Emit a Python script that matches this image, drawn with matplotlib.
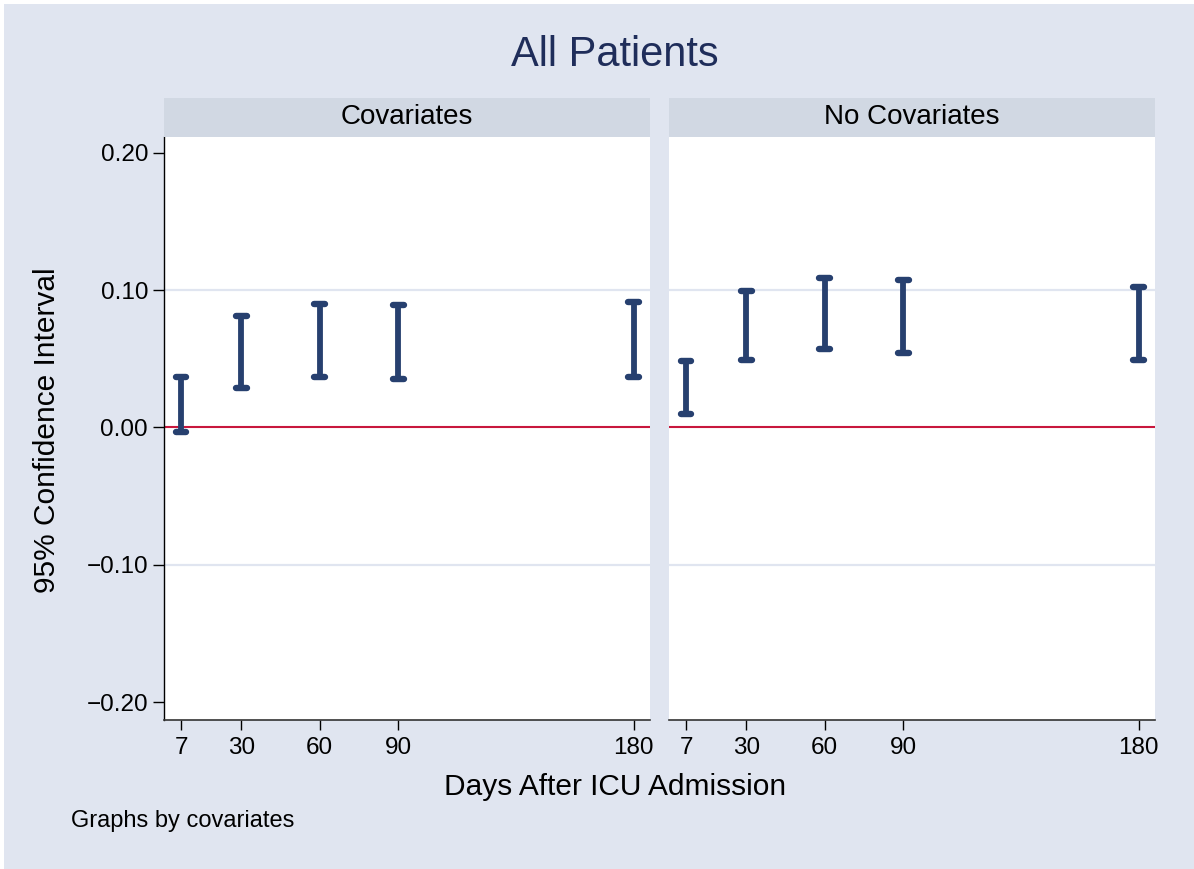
"""Confidence intervals by days after ICU admission, with and without covariates."""
import matplotlib
matplotlib.use("Agg")
import matplotlib.pyplot as plt
from matplotlib.patches import Rectangle

plt.rcParams["font.family"] = ["Liberation Sans", "DejaVu Sans"]

# data
days = [7, 30, 60, 90, 180]
panels = ["Covariates", "No Covariates"]
cov_lo = [-0.003, 0.029, 0.037, 0.035, 0.037]
cov_hi = [0.037, 0.081, 0.090, 0.089, 0.091]
nocov_lo = [0.010, 0.049, 0.057, 0.054, 0.049]
nocov_hi = [0.048, 0.099, 0.109, 0.107, 0.102]
yticks = [-0.20, -0.10, 0.00, 0.10, 0.20]

BG = "#E0E5F0"
STRIP = "#D1D8E3"
NAVY = "#27406F"
RED = "#C8173D"
W, H = 1194, 869

fig = plt.figure(figsize=(W / 100, H / 100), dpi=100)
fig.patch.set_facecolor("white")
fig.patches.append(Rectangle((4 / W, 0), 1 - 4 / W, 1 - 4 / H, transform=fig.transFigure,
                             facecolor=BG, edgecolor="none", zorder=-10))

def px(x0, y0, x1, y1):
    # pixel box (top-left origin) -> figure fraction rect
    return [x0 / W, 1 - y1 / H, (x1 - x0) / W, (y1 - y0) / H]

data = [(cov_lo, cov_hi), (nocov_lo, nocov_hi)]
for i, (name, (lo, hi)) in enumerate(zip(panels, data)):
    x0 = [164, 669][i]
    x1 = [650, 1155][i]
    ax = fig.add_axes(px(x0, 137, x1, 720))
    ax.set_facecolor("white")
    ax.set_xlim(0.5, 186.3)
    ax.set_ylim(-0.213, 0.2114)

    for g in [-0.10, 0.10]:
        ax.axhline(g, color=BG, lw=1.6, zorder=1)
    ax.axhline(0, color=RED, lw=1.5, zorder=2)

    vl = ax.vlines(days, lo, hi, color=NAVY, lw=4.2, zorder=3)
    vl.set_capstyle("butt")
    for ends in (lo, hi):
        hl = ax.hlines(ends, [d - 2.1 for d in days], [d + 2.1 for d in days],
                       color=NAVY, lw=4.6, zorder=4)
        hl.set_capstyle("round")

    for s in ["top", "right"]:
        ax.spines[s].set_visible(False)
    ax.spines["bottom"].set_color("#333333")
    ax.spines["bottom"].set_linewidth(1.2)
    ax.set_xticks(days)
    ax.set_xticklabels([str(d) for d in days])
    ax.tick_params(axis="x", length=7, width=1, pad=5, labelsize=17.5, colors="black")
    if i == 0:
        ax.spines["left"].set_color("black")
        ax.spines["left"].set_linewidth(1.0)
        ax.set_yticks(yticks)
        ax.set_yticklabels(["\u22120.20", "\u22120.10", "0.00", "0.10", "0.20"])
        ax.tick_params(axis="y", length=8, width=1, pad=3.5, labelsize=17.5)
    else:
        ax.spines["left"].set_visible(False)
        ax.set_yticks([])

    # strip
    sx = fig.add_axes(px(x0, 98, x1, 137))
    sx.set_facecolor(STRIP)
    sx.set_xticks([])
    sx.set_yticks([])
    for s in sx.spines.values():
        s.set_visible(False)
    sx.text(0.5, 0.5, name, ha="center", va="center", fontsize=20, transform=sx.transAxes)

fig.text(615 / W, 1 - 55 / H, "All Patients", ha="center", va="center",
         fontsize=30, color="#1F2D5A")
fig.text(615 / W, 1 - 787 / H, "Days After ICU Admission", ha="center", va="center",
         fontsize=21.5)
fig.text(47 / W, 1 - 430 / H, "95% Confidence Interval", ha="center", va="center",
         fontsize=21.5, rotation=90)
fig.text(71 / W, 1 - 821 / H, "Graphs by covariates", ha="left", va="center",
         fontsize=17)

fig.savefig("out.png", dpi=100)
